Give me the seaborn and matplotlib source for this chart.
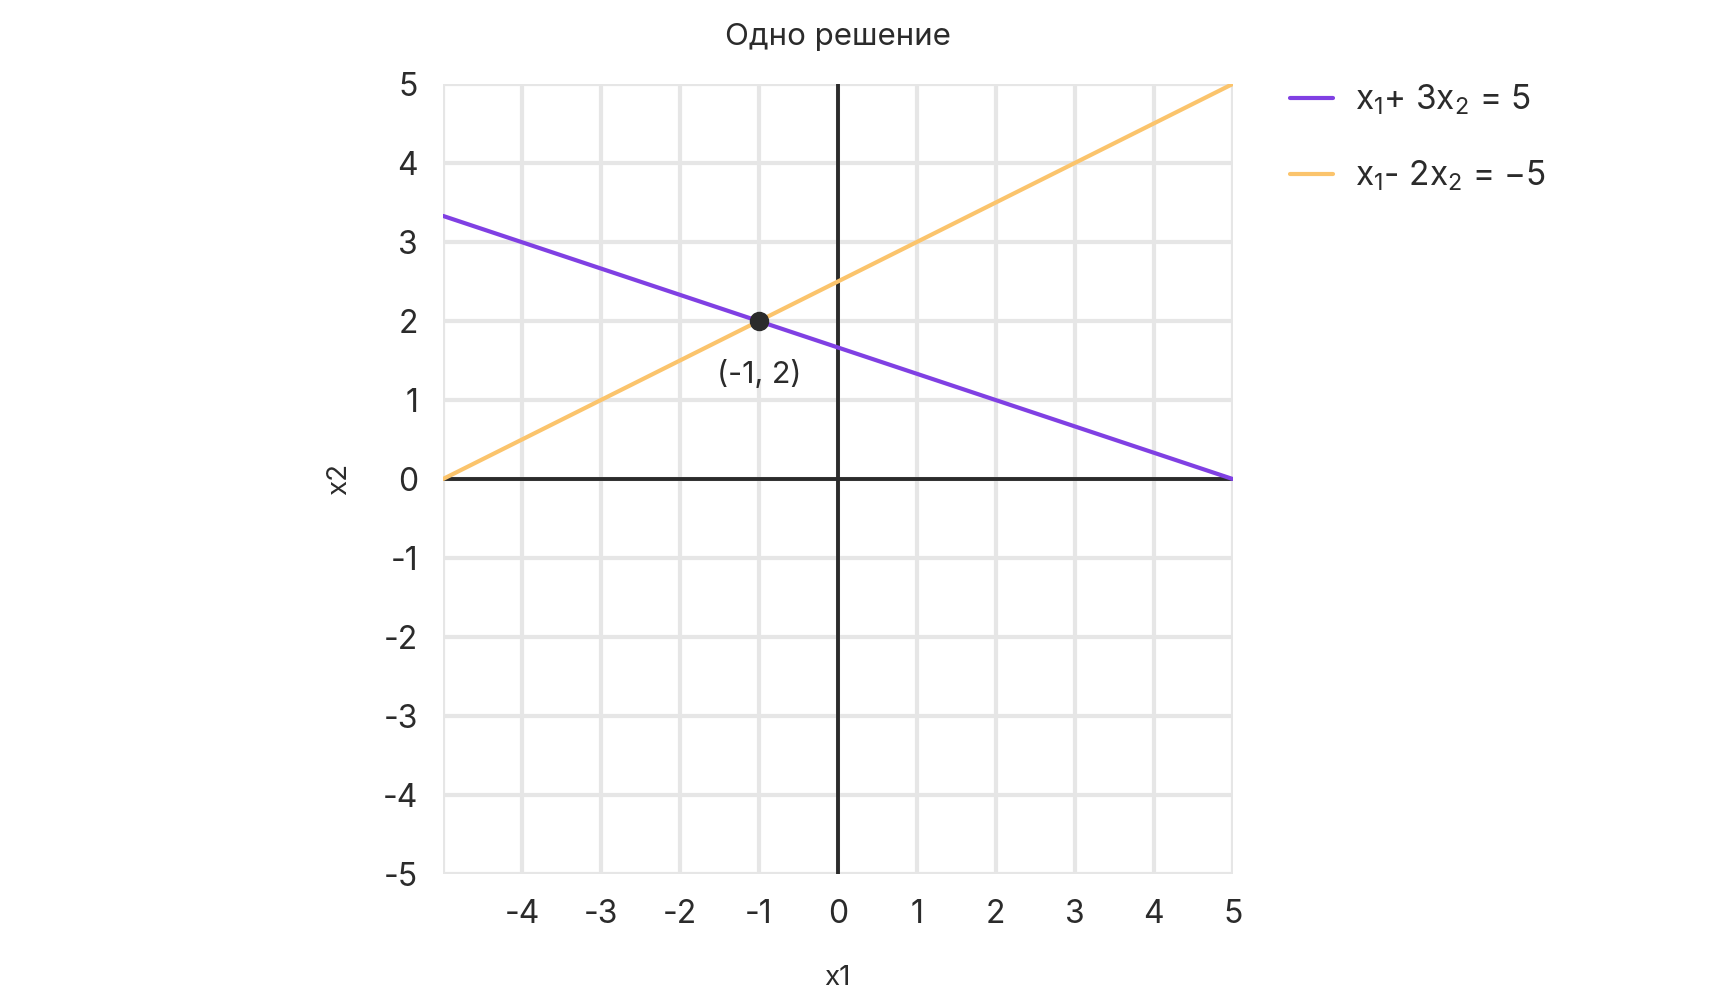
import matplotlib
matplotlib.use("Agg")
import matplotlib.pyplot as plt
import seaborn as sns
import pandas as pd

# data
x_ends = [-5, 5]
line1_y = [3.33, 0]     # x1 + 3x2 = 5
line2_y = [0, 5]        # x1 - 2x2 = -5
solution = (-1, 2)
x_ticks = [-4, -3, -2, -1, 0, 1, 2, 3, 4, 5]
y_ticks = [-5, -4, -3, -2, -1, 0, 1, 2, 3, 4, 5]
labels = ["x$_1$+ 3x$_2$ = 5", "x$_1$- 2x$_2$ = \u22125"]

df = pd.DataFrame({
    "x1": x_ends + x_ends,
    "x2": line1_y + line2_y,
    "eq": [labels[0]] * 2 + [labels[1]] * 2,
})

sns.set_style("white")
plt.rcParams["font.family"] = ["Inter", "DejaVu Sans"]
plt.rcParams["mathtext.fontset"] = "custom"
plt.rcParams["mathtext.rm"] = "Inter"
plt.rcParams["mathtext.it"] = "Inter"
plt.rcParams["axes.unicode_minus"] = False

text_color = "#2b2b2b"
grid_color = "#e6e6e6"

fig = plt.figure(figsize=(17.24, 10), dpi=100)
ax = fig.add_axes([0.257, 0.126, 0.458, 0.790])

# grid drawn manually so it sits under everything
for v in range(-5, 6):
    ax.axvline(v, color=grid_color, lw=3, zorder=0)
    ax.axhline(v, color=grid_color, lw=3, zorder=0)
ax.axvline(0, color=text_color, lw=2.8, zorder=1)
ax.axhline(0, color=text_color, lw=2.8, zorder=1)

sns.lineplot(data=df, x="x1", y="x2", hue="eq",
             palette=["#8040e3", "#fbc46c"], lw=3, ax=ax, zorder=2)

ax.plot(*solution, "o", color=text_color, ms=13, zorder=3)
ax.annotate("(-1, 2)", solution, xytext=(0, -28), textcoords="offset points",
            ha="center", va="top", fontsize=22, color=text_color)

ax.set_xlim(-5, 5)
ax.set_ylim(-5, 5)
ax.set_xticks(x_ticks)
ax.set_yticks(y_ticks)
ax.tick_params(length=0, labelsize=23, labelcolor=text_color)
ax.tick_params(axis="x", pad=18)
ax.tick_params(axis="y", pad=18)
for s in ax.spines.values():
    s.set_visible(False)

ax.set_xlabel("x1", fontsize=20, color=text_color, labelpad=25)
ax.set_ylabel("x2", fontsize=20, color=text_color, labelpad=22)
ax.set_title("Одно решение", fontsize=22.5, color=text_color, pad=28)

leg = ax.legend(loc="upper left", bbox_to_anchor=(1.034, 1.04), frameon=False,
                fontsize=24, handlelength=1.3, handletextpad=0.65,
                labelspacing=1.25, title=None)
for t in leg.get_texts():
    t.set_color(text_color)

fig.savefig("out.png", dpi=100)
